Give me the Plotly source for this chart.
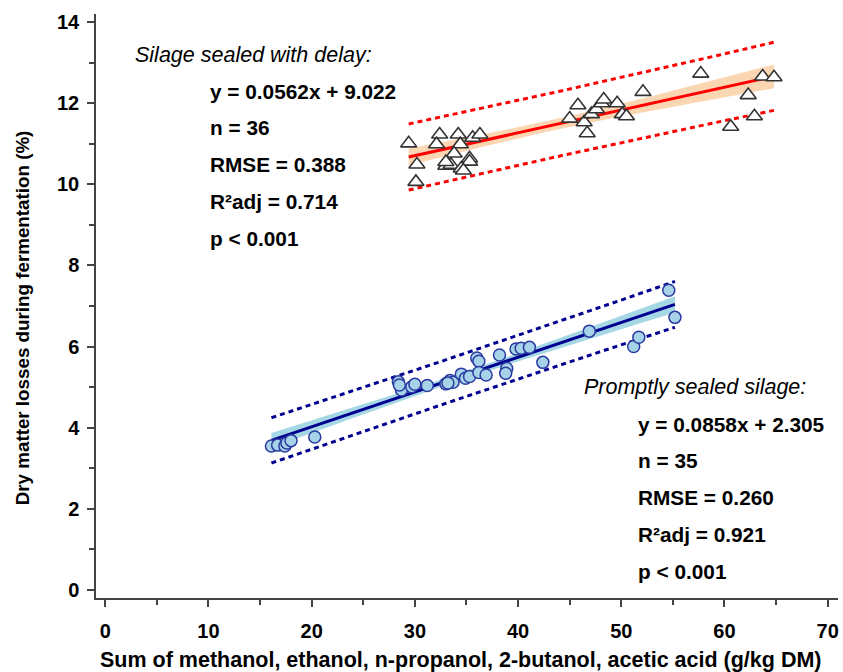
import numpy as np
import plotly.graph_objects as go

# ---- Data: silage sealed with delay (triangles) ----
delay_x = [29.4, 30.2, 30.1, 32.4, 32.1, 34.2, 34.4, 33.8, 33.2, 33.0, 33.5, 35.3,
           35.3, 34.5, 34.7, 35.6, 36.3, 33.0, 45.0, 45.8, 46.4, 46.7, 47.1, 47.6,
           48.1, 48.3, 49.6, 50.1, 50.5, 52.1, 57.7, 62.3, 63.7, 64.8, 60.6, 62.9]
delay_y = [11.01, 10.49, 10.06, 11.23, 10.99, 11.23, 10.99, 10.76, 10.50, 10.46, 10.48, 10.64,
           10.56, 10.39, 10.34, 11.15, 11.23, 10.55, 11.62, 11.95, 11.53, 11.26, 11.73, 11.85,
           12.00, 12.09, 12.00, 11.73, 11.68, 12.28, 12.73, 12.20, 12.66, 12.64, 11.42, 11.68]

# ---- Data: promptly sealed silage (circles) ----
prompt_x = [16.1, 16.7, 17.4, 17.6, 18.0, 20.3, 28.4, 28.7, 29.7, 30.0, 31.2, 33.0,
            33.4, 33.7, 34.5, 34.9, 35.3, 36.0, 36.2, 36.2, 36.9, 38.2, 38.9, 38.8,
            39.8, 40.3, 41.1, 42.4, 46.9, 51.2, 51.7, 54.6, 55.2, 28.5, 33.2]
prompt_y = [3.55, 3.57, 3.55, 3.62, 3.68, 3.77, 5.13, 4.93, 5.01, 5.07, 5.04, 5.08,
            5.16, 5.12, 5.32, 5.22, 5.26, 5.72, 5.64, 5.36, 5.30, 5.79, 5.46, 5.34,
            5.94, 5.96, 5.98, 5.61, 6.38, 6.00, 6.23, 7.39, 6.72, 5.05, 5.10]

# ---- Regression statistics (as reported) ----
delay_slope, delay_icpt, delay_rmse = 0.0562, 9.022, 0.388
prompt_slope, prompt_icpt, prompt_rmse = 0.0858, 2.305, 0.260
T_CRIT = 2.03

delay_text = ["y = 0.0562x + 9.022", "n = 36", "RMSE = 0.388", "R²adj = 0.714", "p < 0.001"]
prompt_text = ["y = 0.0858x + 2.305", "n = 35", "RMSE = 0.260", "R²adj = 0.921", "p < 0.001"]

x_title = "Sum of methanol, ethanol, n-propanol, 2-butanol, acetic acid (g/kg DM)"
y_title = "Dry matter losses during fermentation (%)"
x_ticks = [0, 10, 20, 30, 40, 50, 60, 70]
y_ticks = [0, 2, 4, 6, 8, 10, 12, 14]


def bands(xs, slope, icpt, rmse):
    xs = np.asarray(xs, float)
    n = len(xs)
    xbar = xs.mean()
    sxx = ((xs - xbar) ** 2).sum()
    g = np.linspace(xs.min(), xs.max(), 100)
    fit = slope * g + icpt
    ci = T_CRIT * rmse * np.sqrt(1 / n + (g - xbar) ** 2 / sxx)
    pi = T_CRIT * rmse * np.sqrt(1 + 1 / n + (g - xbar) ** 2 / sxx)
    return g, fit, ci, pi


fig = go.Figure()


def add_group(xs, ys, slope, icpt, rmse, band_col, line_col, marker):
    g, fit, ci, pi = bands(xs, slope, icpt, rmse)
    fig.add_trace(go.Scatter(x=np.concatenate([g, g[::-1]]),
                             y=np.concatenate([fit + ci, (fit - ci)[::-1]]),
                             fill="toself", fillcolor=band_col, line=dict(width=0),
                             mode="lines", hoverinfo="skip", showlegend=False))
    fig.add_trace(go.Scatter(x=g, y=fit, mode="lines",
                             line=dict(color=line_col, width=3), showlegend=False))
    for s in (1, -1):
        fig.add_trace(go.Scatter(x=g, y=fit + s * pi, mode="lines",
                                 line=dict(color=line_col, width=3, dash="5px,4px"),
                                 showlegend=False))
    fig.add_trace(go.Scatter(x=xs, y=ys, mode="markers", marker=marker, showlegend=False))


add_group(delay_x, delay_y, delay_slope, delay_icpt, delay_rmse,
          "rgba(251,210,170,0.9)", "#ff0000",
          dict(symbol="triangle-up", size=14, color="white",
               line=dict(color="#333333", width=1.6)))
add_group(prompt_x, prompt_y, prompt_slope, prompt_icpt, prompt_rmse,
          "rgba(150,208,225,0.85)", "#000090",
          dict(symbol="circle", size=12, color="#a6d3e8",
               line=dict(color="#2b3aa0", width=1.5)))

FONT = "Arial, 'Liberation Sans', sans-serif"
ann = []
ann.append(dict(x=2.7, y=13.19, text="<i>Silage sealed with delay:</i>", xanchor="left",
                font=dict(size=21.5)))
for i, t in enumerate(delay_text):
    ann.append(dict(x=10.0, y=12.3 - 0.91 * i, text="<b>%s</b>" % t, xanchor="left",
                    font=dict(size=20.8)))
ann.append(dict(x=68.1, y=5.0, text="<i>Promptly sealed silage:</i>", xanchor="right",
                font=dict(size=21.5)))
for i, t in enumerate(prompt_text):
    ann.append(dict(x=51.4, y=4.09 - 0.91 * i, text="<b>%s</b>" % t, xanchor="left",
                    font=dict(size=20.8)))
for a in ann:
    a.update(xref="x", yref="y", showarrow=False, yanchor="middle")
    a["font"].update(family=FONT, color="black")

# axis titles placed as paper annotations
ann.append(dict(xref="paper", yref="paper", x=0.4906, y=-0.106, showarrow=False,
                xanchor="center", yanchor="middle", text="<b>%s</b>" % x_title,
                font=dict(family=FONT, size=21.5, color="black")))
ann.append(dict(xref="paper", yref="paper", x=-0.0997, y=0.479, showarrow=False,
                xanchor="center", yanchor="middle", textangle=-90, text="<b>%s</b>" % y_title,
                font=dict(family=FONT, size=18.8, color="black")))

axis_common = dict(showline=True, linecolor="#444444", linewidth=1.5, ticks="outside",
                   tickcolor="#444444", ticklen=7, tickwidth=1.5, showgrid=False,
                   zeroline=False, tickfont=dict(family=FONT, size=20, color="black"))

fig.update_layout(
    width=843, height=672,
    margin=dict(l=96, r=5, t=14, b=74),
    plot_bgcolor="white", paper_bgcolor="white",
    annotations=ann,
    xaxis=dict(range=[-0.9, 71], tickvals=x_ticks,
               ticktext=["<b>%d</b>" % v for v in x_ticks],
               minor=dict(dtick=5, tick0=0, ticks="outside", ticklen=5, tickcolor="#444444"),
               ticklabelstandoff=7, **axis_common),
    yaxis=dict(range=[-0.2, 14.2], tickvals=y_ticks,
               ticktext=["<b>%d</b>" % v for v in y_ticks],
               minor=dict(dtick=1, tick0=0, ticks="outside", ticklen=5, tickcolor="#444444"),
               ticklabelstandoff=4, **axis_common),
)

fig.write_html("out.html")
